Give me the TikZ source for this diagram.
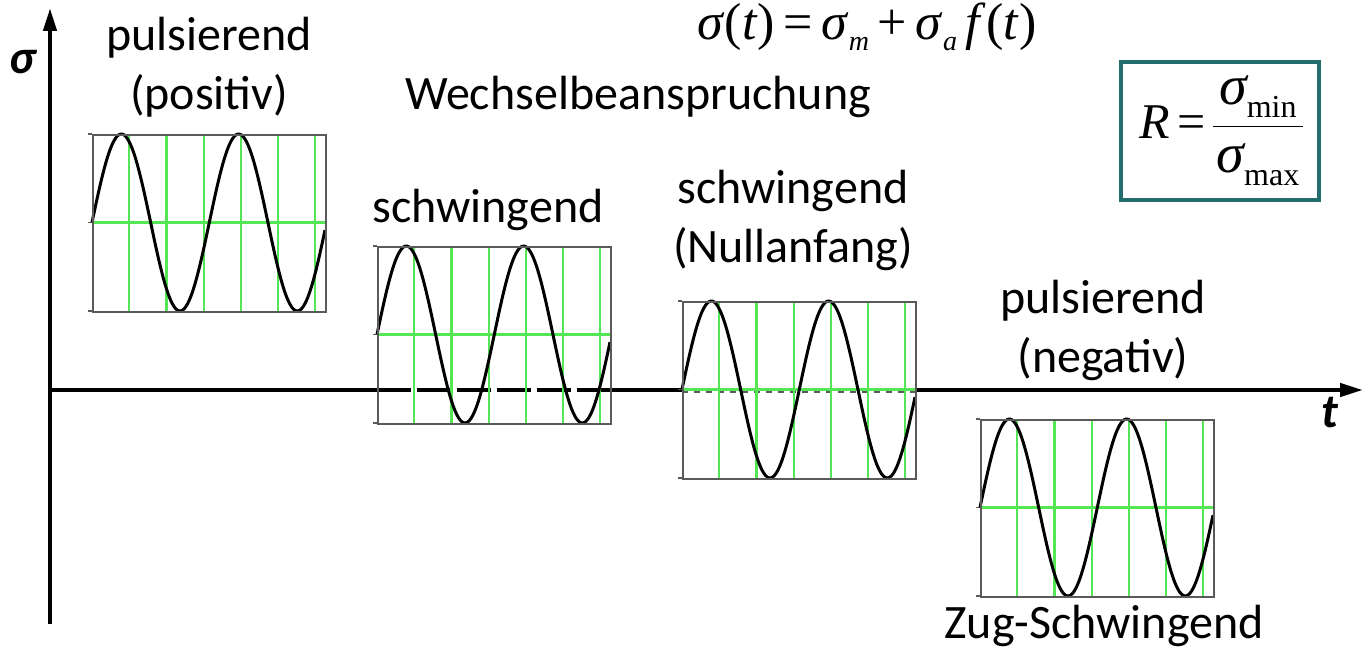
\documentclass[tikz,border=0pt]{standalone}
\usepackage{fontspec}
\setmainfont{Carlito}
\newfontfamily\tms{Liberation Serif}
\usetikzlibrary{arrows.meta}
\definecolor{wvGreen}{HTML}{55E655}
\definecolor{wvFrame}{HTML}{5A5A5A}
\definecolor{wvTeal}{HTML}{226E6E}
\newcommand{\tsub}[1]{\raisebox{-0.45ex}{\fontsize{14}{14}\selectfont #1}}
\newcommand{\rsig}[1]{\hbox{\kern2pt\tms\fontsize{28}{28}\selectfont\itshape σ\raisebox{-0.5ex}{\fontsize{16}{16}\selectfont\upshape #1}\kern2pt}}
\tikzset{
  sigaxis/.style ={-{Triangle[length=11.5pt,width=6.5pt]},line width=2.1pt},
  taxis/.style   ={line width=2.1pt},
  plotbox/.style ={draw=wvFrame,line width=0.9pt,inner sep=0pt,
                   minimum width=116.5pt,minimum height=88.5pt,anchor=north west},
  gridline/.style={wvGreen,line width=1.1pt},
  tick/.style    ={wvFrame,line width=0.9pt},
  wave/.style    ={black,line width=1.5pt},
  lbl/.style     ={font=\fontsize{24}{29.5}\selectfont,align=center,inner sep=0pt},
  axlbl/.style   ={font=\fontsize{24}{24}\selectfont\bfseries\itshape,inner sep=0pt},
  rbox/.style    ={draw=wvTeal,line width=2pt,minimum width=99pt,minimum height=69pt,
                   inner sep=0pt,font=\tms\fontsize{25}{25}\selectfont},
}

\begin{document}
\begin{tikzpicture}[x=0.5pt,y=-0.5pt]
\useasboundingbox (0,0) rectangle (1370,647);

%% axes (behind the plots)
\coordinate (O)    at (48,390);
\coordinate (sTop) at (50,8);
\coordinate (sBot) at (50,624);
\coordinate (tEnd) at (1363,390);
\draw[sigaxis] (sBot) -- (sTop);
\draw[taxis] (O) -- (377,390);
\draw[taxis,dash pattern=on 17pt off 3pt] (377,390) -- (610,390);
\draw[taxis] (609,390) -- (682,390);
\draw[wvFrame,line width=0.8pt,dashed] (682,392) -- (915,392);
\draw[sigaxis] (915,390) -- (tEnd);

%% the four oscillograms
\foreach \n/\bx/\by in {p1/92/134, p2/377/246, p3/682/301, p4/980/419}{
  \begin{scope}[shift={(\bx,\by)}]
    \foreach \k in {1,...,6} \draw[gridline] (37.2*\k,0) -- (37.2*\k,177);
    \draw[gridline] (0,88.5) -- (233,88.5);
    \foreach \ty in {0,88.5,177} \draw[tick] (-4,\ty) -- (0,\ty);
    \draw[wave] plot[domain=0:233,samples=140,smooth] (\x,{88.5-88.5*sin(3.069*\x)});
    \node[plotbox] (\n) at (0,0) {};
  \end{scope}
}

%% labels
\node[axlbl] (sig) at (23,62) {σ};
\node[axlbl] (tlab) at (1330,413) {t};

\node[lbl,anchor=north] (posl) at (209,17) {pulsierend\\(positiv)};
\node[lbl,anchor=base] (wech) at (638,110) {Wechselbeanspruchung};
\node[lbl,anchor=base] (schw) at (488,222) {schwingend};
\node[lbl,anchor=north] (null) at (793,170) {schwingend\\(Nullanfang)};
\node[lbl,anchor=north] (negl) at (1103,280) {pulsierend\\(negativ)};
\node[lbl,anchor=base] (zug) at (1104,638) {Zug-Schwingend};

\node[font=\tms\fontsize{26}{26}\selectfont,anchor=base,inner sep=0pt] (law) at (867,40)
  {\textit{σ}(\textit{t})\,=\,\textit{σ}\tsub{\textit{m}}\,+\,\textit{σ}\tsub{\textit{a}}\,\textit{f}(\textit{t})};

\node[rbox] (rdef) at (1219.5,131)
  {\kern3pt\textit{R}\kern4pt=\kern2pt$\displaystyle\frac{\rsig{min}}{\rsig{max}}$};
\end{tikzpicture}
\end{document}
